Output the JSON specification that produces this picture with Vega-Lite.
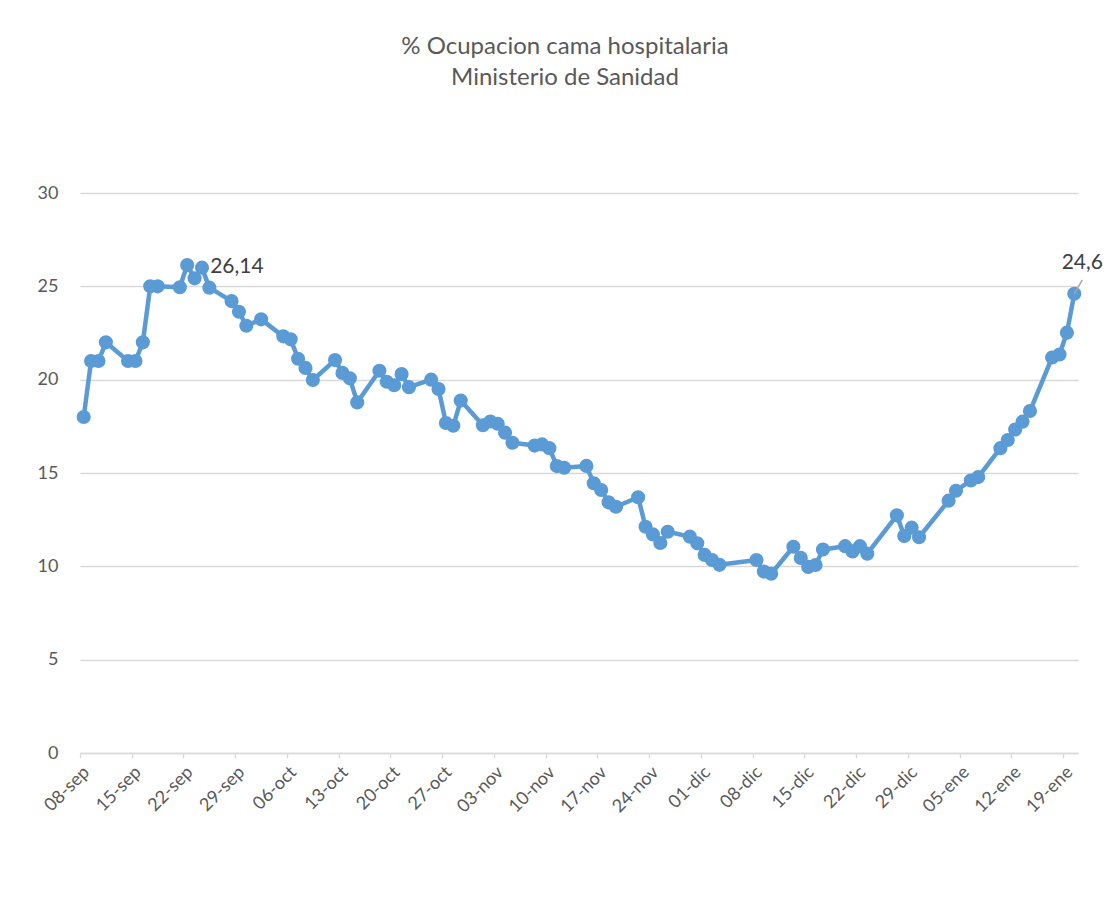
{
  "$schema": "https://vega.github.io/schema/vega-lite/v6.json",
  "autosize": "none",
  "padding": {"left": 80, "top": 193, "right": 37, "bottom": 151},
  "width": 998,
  "height": 560,
  "background": "white",
  "config": {
    "font": "Lato",
    "view": {"stroke": null}
  },
  "title": {
    "text": ["% Ocupacion cama hospitalaria", "Ministerio de Sanidad"],
    "font": "Lato",
    "fontSize": 24,
    "fontWeight": "normal",
    "color": "#595959",
    "anchor": "middle",
    "frame": "group",
    "dx": -14,
    "lineHeight": 31,
    "offset": 94
  },
  "data": {
    "values": [
      {"date": "2020-09-08", "value": 18.0},
      {"date": "2020-09-09", "value": 21.0},
      {"date": "2020-09-10", "value": 21.0},
      {"date": "2020-09-11", "value": 22.0},
      {"date": "2020-09-14", "value": 21.0},
      {"date": "2020-09-15", "value": 21.0},
      {"date": "2020-09-16", "value": 22.0},
      {"date": "2020-09-17", "value": 25.0},
      {"date": "2020-09-18", "value": 25.0},
      {"date": "2020-09-21", "value": 24.95},
      {"date": "2020-09-22", "value": 26.14, "label": "26,14"},
      {"date": "2020-09-23", "value": 25.43},
      {"date": "2020-09-24", "value": 26.0},
      {"date": "2020-09-25", "value": 24.93},
      {"date": "2020-09-28", "value": 24.21},
      {"date": "2020-09-29", "value": 23.64},
      {"date": "2020-09-30", "value": 22.89},
      {"date": "2020-10-02", "value": 23.23},
      {"date": "2020-10-05", "value": 22.32},
      {"date": "2020-10-06", "value": 22.16},
      {"date": "2020-10-07", "value": 21.12},
      {"date": "2020-10-08", "value": 20.63},
      {"date": "2020-10-09", "value": 19.98},
      {"date": "2020-10-12", "value": 21.05},
      {"date": "2020-10-13", "value": 20.36},
      {"date": "2020-10-14", "value": 20.07},
      {"date": "2020-10-15", "value": 18.78},
      {"date": "2020-10-18", "value": 20.48},
      {"date": "2020-10-19", "value": 19.89},
      {"date": "2020-10-20", "value": 19.7},
      {"date": "2020-10-21", "value": 20.3},
      {"date": "2020-10-22", "value": 19.6},
      {"date": "2020-10-25", "value": 20.0},
      {"date": "2020-10-26", "value": 19.5},
      {"date": "2020-10-27", "value": 17.68},
      {"date": "2020-10-28", "value": 17.53},
      {"date": "2020-10-29", "value": 18.88},
      {"date": "2020-11-01", "value": 17.56},
      {"date": "2020-11-02", "value": 17.76},
      {"date": "2020-11-03", "value": 17.64},
      {"date": "2020-11-04", "value": 17.16},
      {"date": "2020-11-05", "value": 16.62},
      {"date": "2020-11-08", "value": 16.47},
      {"date": "2020-11-09", "value": 16.53},
      {"date": "2020-11-10", "value": 16.33},
      {"date": "2020-11-11", "value": 15.37},
      {"date": "2020-11-12", "value": 15.28},
      {"date": "2020-11-15", "value": 15.38},
      {"date": "2020-11-16", "value": 14.45},
      {"date": "2020-11-17", "value": 14.09},
      {"date": "2020-11-18", "value": 13.43},
      {"date": "2020-11-19", "value": 13.19},
      {"date": "2020-11-22", "value": 13.7},
      {"date": "2020-11-23", "value": 12.12},
      {"date": "2020-11-24", "value": 11.71},
      {"date": "2020-11-25", "value": 11.25},
      {"date": "2020-11-26", "value": 11.85},
      {"date": "2020-11-29", "value": 11.59},
      {"date": "2020-11-30", "value": 11.23},
      {"date": "2020-12-01", "value": 10.61},
      {"date": "2020-12-02", "value": 10.34},
      {"date": "2020-12-03", "value": 10.08},
      {"date": "2020-12-08", "value": 10.34},
      {"date": "2020-12-09", "value": 9.72},
      {"date": "2020-12-10", "value": 9.6},
      {"date": "2020-12-13", "value": 11.05},
      {"date": "2020-12-14", "value": 10.45},
      {"date": "2020-12-15", "value": 9.97},
      {"date": "2020-12-16", "value": 10.07},
      {"date": "2020-12-17", "value": 10.9},
      {"date": "2020-12-20", "value": 11.08},
      {"date": "2020-12-21", "value": 10.8},
      {"date": "2020-12-22", "value": 11.08},
      {"date": "2020-12-23", "value": 10.68},
      {"date": "2020-12-27", "value": 12.73},
      {"date": "2020-12-28", "value": 11.62},
      {"date": "2020-12-29", "value": 12.07},
      {"date": "2020-12-30", "value": 11.56},
      {"date": "2021-01-03", "value": 13.52},
      {"date": "2021-01-04", "value": 14.05},
      {"date": "2021-01-06", "value": 14.6},
      {"date": "2021-01-07", "value": 14.78},
      {"date": "2021-01-10", "value": 16.33},
      {"date": "2021-01-11", "value": 16.77},
      {"date": "2021-01-12", "value": 17.33},
      {"date": "2021-01-13", "value": 17.75},
      {"date": "2021-01-14", "value": 18.32},
      {"date": "2021-01-17", "value": 21.19},
      {"date": "2021-01-18", "value": 21.35},
      {"date": "2021-01-19", "value": 22.52},
      {"date": "2021-01-20", "value": 24.6, "label": "24,6"}
    ],
    "format": {"parse": {"date": "date:'%Y-%m-%d'"}}
  },
  "encoding": {
    "x": {
      "field": "date",
      "type": "temporal",
      "scale": {
        "domain": [
          {"year": 2020, "month": 9, "date": 7, "hours": 12},
          {"year": 2021, "month": 1, "date": 20, "hours": 12}
        ]
      },
      "axis": {
        "title": null,
        "grid": false,
        "values": [
          {"year": 2020, "month": 9, "date": 7, "hours": 12},
          {"year": 2020, "month": 9, "date": 14, "hours": 12},
          {"year": 2020, "month": 9, "date": 21, "hours": 12},
          {"year": 2020, "month": 9, "date": 28, "hours": 12},
          {"year": 2020, "month": 10, "date": 5, "hours": 12},
          {"year": 2020, "month": 10, "date": 12, "hours": 12},
          {"year": 2020, "month": 10, "date": 19, "hours": 12},
          {"year": 2020, "month": 10, "date": 26, "hours": 12},
          {"year": 2020, "month": 11, "date": 2, "hours": 12},
          {"year": 2020, "month": 11, "date": 9, "hours": 12},
          {"year": 2020, "month": 11, "date": 16, "hours": 12},
          {"year": 2020, "month": 11, "date": 23, "hours": 12},
          {"year": 2020, "month": 11, "date": 30, "hours": 12},
          {"year": 2020, "month": 12, "date": 7, "hours": 12},
          {"year": 2020, "month": 12, "date": 14, "hours": 12},
          {"year": 2020, "month": 12, "date": 21, "hours": 12},
          {"year": 2020, "month": 12, "date": 28, "hours": 12},
          {"year": 2021, "month": 1, "date": 4, "hours": 12},
          {"year": 2021, "month": 1, "date": 11, "hours": 12},
          {"year": 2021, "month": 1, "date": 18, "hours": 12}
        ],
        "labelExpr": "timeFormat(time(datum.value) + 43200000, '%d') + '-' + ['ene','feb','mar','abr','may','jun','jul','ago','sep','oct','nov','dic'][month(time(datum.value) + 43200000)]",
        "labelAngle": -45,
        "labelFont": "Lato",
        "labelFontSize": 18,
        "labelColor": "#595959",
        "labelPadding": 5,
        "labelOverlap": false,
        "labelBound": false,
        "labelFlush": false,
        "domainColor": "#d9d9d9",
        "domainWidth": 1.3,
        "tickColor": "#d9d9d9",
        "tickWidth": 1.3,
        "tickSize": 5
      }
    },
    "y": {
      "field": "value",
      "type": "quantitative",
      "scale": {"domain": [0, 30], "nice": false, "zero": true},
      "axis": {
        "title": null,
        "values": [0, 5, 10, 15, 20, 25, 30],
        "domain": false,
        "ticks": false,
        "grid": true,
        "gridColor": "#d9d9d9",
        "gridWidth": 1.3,
        "labelFont": "Lato",
        "labelFontSize": 18,
        "labelColor": "#595959",
        "labelPadding": 22
      }
    }
  },
  "layer": [
    {
      "mark": {"type": "line", "color": "#5b9bd5", "strokeWidth": 4.5, "strokeJoin": "round"}
    },
    {
      "mark": {"type": "point", "shape": "circle", "filled": true, "opacity": 1, "color": "#5b9bd5", "size": 200}
    },
    {
      "transform": [{"filter": "datum.label === '24,6'"}],
      "mark": {"type": "rule", "color": "#a6a6a6", "strokeWidth": 1.5, "x2Offset": 8, "y2Offset": -14},
      "encoding": {
        "x2": {"field": "date"},
        "y2": {"field": "value"}
      }
    },
    {
      "transform": [{"filter": "datum.label === '26,14'"}],
      "mark": {"type": "text", "align": "left", "baseline": "middle", "dx": 23, "dy": 2, "font": "Lato", "fontSize": 21, "color": "#404040"},
      "encoding": {"text": {"field": "label"}}
    },
    {
      "transform": [{"filter": "datum.label === '24,6'"}],
      "mark": {"type": "text", "align": "center", "baseline": "middle", "dx": 8, "dy": -31, "font": "Lato", "fontSize": 21, "color": "#404040"},
      "encoding": {"text": {"field": "label"}}
    }
  ]
}
